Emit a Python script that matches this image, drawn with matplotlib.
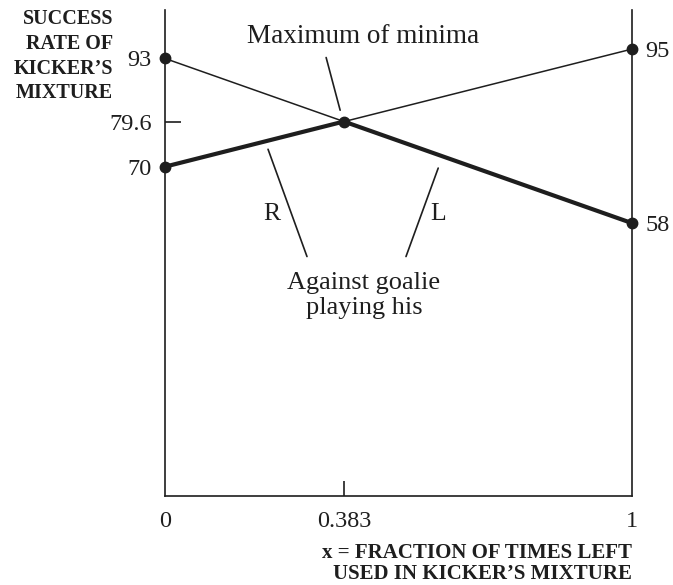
import matplotlib
matplotlib.use("Agg")
import matplotlib.pyplot as plt
import numpy as np

# ---- data ----
x_ends = [0, 1]
vs_goalie_R = [70, 95]   # success rate against goalie playing R
vs_goalie_L = [93, 58]   # success rate against goalie playing L
x_star = 0.383
v_star = 79.6

left_ticks = [93, 70]
right_ticks = [95, 58]
x_major = [0, 1]

INK = "#1e1e1e"
plt.rcParams['font.family'] = ['Liberation Serif', 'DejaVu Serif']

fig = plt.figure(figsize=(6.73, 5.85), dpi=100)
ax = fig.add_axes([0.2452, 0.1521, 0.6939, 0.8308])
ax.set_xlim(0, 1)
ax.set_ylim(0, 103.3)

# full lines (thin)
ax.plot(x_ends, vs_goalie_R, color=INK, lw=1.1, zorder=2)
ax.plot(x_ends, vs_goalie_L, color=INK, lw=1.1, zorder=2)

# lower envelope (thick)
xs = np.array([0, x_star, 1])
env = np.minimum(np.interp(xs, x_ends, vs_goalie_R), np.interp(xs, x_ends, vs_goalie_L))
env[1] = v_star
ax.plot(xs, env, color=INK, lw=3.0, zorder=3, solid_capstyle='round')

# points
ax.plot(x_ends, vs_goalie_R, 'o', color=INK, ms=7.5, zorder=4, clip_on=False)
ax.plot(x_ends, vs_goalie_L, 'o', color=INK, ms=7.5, zorder=4, clip_on=False)
ax.plot([x_star], [v_star], 'o', color=INK, ms=7.5, zorder=4)

# spines
for s in ['left', 'right', 'bottom']:
    ax.spines[s].set_color(INK)
    ax.spines[s].set_linewidth(1.2)
ax.spines['top'].set_visible(False)

# ticks
NUM = 17.5
ax.set_yticks(left_ticks)
ax.set_yticklabels([str(v) for v in left_ticks])
ax.set_yticks([v_star], minor=True)
ax.set_yticklabels([str(v_star)], minor=True)
ax.tick_params(axis='y', which='major', length=0, pad=9.5, labelsize=NUM, labelcolor=INK)
ax.tick_params(axis='y', which='minor', length=11.5, width=1.2, direction='in', color=INK,
               pad=9.5, labelsize=NUM, labelcolor=INK)

ax.set_xticks(x_major)
ax.set_xticklabels([str(v) for v in x_major])
ax.set_xticks([x_star], minor=True)
ax.set_xticklabels([str(x_star)], minor=True)
ax.tick_params(axis='x', which='major', length=0, pad=10.5, labelsize=NUM, labelcolor=INK)
ax.tick_params(axis='x', which='minor', length=11, width=1.2, direction='in', color=INK,
               pad=10.5, labelsize=NUM, labelcolor=INK)

ax2 = ax.twinx()
ax2.set_ylim(ax.get_ylim())
ax2.set_yticks(right_ticks)
ax2.set_yticklabels([str(v) for v in right_ticks])
ax2.tick_params(axis='y', length=0, pad=9.5, labelsize=NUM, labelcolor=INK)
for s in ax2.spines.values():
    s.set_visible(False)

# annotations
ax.annotate('', xy=(0.375, 82.0), xytext=(0.345, 93.2),
            arrowprops=dict(arrowstyle='-', color=INK, lw=1.2, shrinkA=0, shrinkB=0))
ax.text(0.424, 97.6, 'Maximum of minima', ha='center', va='center', fontsize=19.5, color=INK)

ax.annotate('', xy=(0.304, 50.9), xytext=(0.2206, 73.7),
            arrowprops=dict(arrowstyle='-', color=INK, lw=1.2, shrinkA=0, shrinkB=0))
ax.annotate('', xy=(0.516, 50.9), xytext=(0.585, 69.7),
            arrowprops=dict(arrowstyle='-', color=INK, lw=1.2, shrinkA=0, shrinkB=0))
ax.text(0.229, 59.9, 'R', ha='center', va='center', fontsize=18.5, color=INK)
ax.text(0.585, 59.9, 'L', ha='center', va='center', fontsize=18.5, color=INK)
ax.text(0.426, 42.6, 'Against goalie\nplaying his', ha='center', va='center',
        fontsize=19, color=INK, linespacing=1.2)

# axis titles
fig.text(0.168, 0.904, "SUCCESS\nRATE OF\nKICKER\u2019S\nMIXTURE", ha='right', va='center',
         multialignment='right', fontsize=14.5, fontweight='bold', color=INK, linespacing=1.32)
fig.text(0.939, 0.0368, "x = FRACTION OF TIMES LEFT\nUSED IN KICKER\u2019S MIXTURE",
         ha='right', va='center', multialignment='right', fontsize=15, fontweight='bold',
         color=INK, linespacing=1.12)

fig.savefig('out.png', dpi=100)
